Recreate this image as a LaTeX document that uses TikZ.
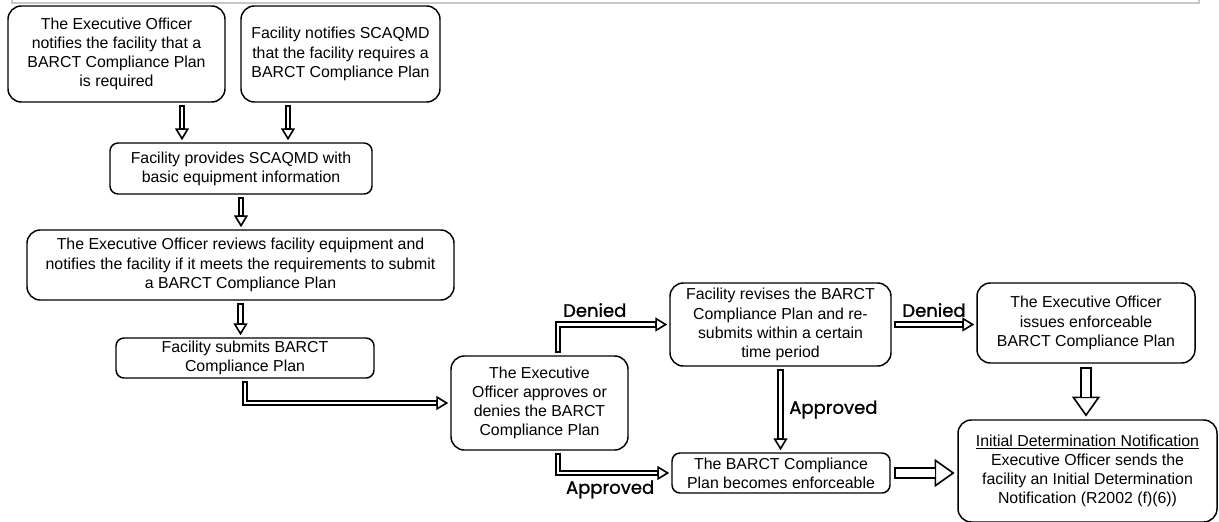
\documentclass[tikz,border=0pt]{standalone}
\usepackage{fontspec}
\setmainfont{Liberation Sans}
\newfontfamily\lblfont{Poppins}[FakeBold=1.2]
\usetikzlibrary{arrows.meta}
\definecolor{framegray}{RGB}{200,200,200}
\begin{document}
\begin{tikzpicture}[x=0.75pt,y=-0.75pt,
  box/.style={draw, line width=1.1pt, rounded corners=10pt, align=center, inner sep=0pt,
    font=\fontsize{11.9}{14.4}\selectfont},
  smallbox/.style={box, rounded corners=6pt},
  lbl/.style={font=\lblfont\fontsize{13.5}{16}\selectfont, inner sep=0pt},
  flow/.style={line width=5.2pt, shorten <=2pt, shorten >=1.5pt,
    -{Triangle[open,length=9pt,width=10.5pt,line width=1.2pt]},
    postaction={draw=white, -, line width=2.1pt, shorten <=3.3pt, shorten >=10.5pt}},
  bigflow/.style={line width=9.6pt, shorten <=2.5pt, shorten >=2pt,
    -{Triangle[open,length=15pt,width=21pt,line width=1.2pt]},
    postaction={draw=white, -, line width=6pt, shorten <=3.8pt, shorten >=17pt}}]
\useasboundingbox (0,0) rectangle (1219,521);
% frame remnant at the top
\draw[framegray, line width=0.8pt] (12,-10) -- (12,3) -- (1199,3) -- (1199,-10);

\node[box, minimum width=162.75pt, minimum height=72pt] (A) at (116.5,54)
  {The Executive Officer\\notifies the facility that a\\BARCT Compliance Plan\\is required};
\node[box, minimum width=149.25pt, minimum height=72pt] (B) at (340.5,54)
  {Facility notifies SCAQMD\\that the facility requires a\\BARCT Compliance Plan};
\node[smallbox, minimum width=196.5pt, minimum height=38.25pt] (C) at (241,168.5)
  {Facility provides SCAQMD with\\basic equipment information};
\node[box, minimum width=320.25pt, minimum height=52.5pt] (D) at (240.5,265)
  {The Executive Officer reviews facility equipment and\\notifies the facility if it meets the requirements to submit\\a BARCT Compliance Plan};
\node[smallbox, minimum width=193.5pt, minimum height=30pt] (E) at (245,358)
  {Facility submits BARCT\\Compliance Plan};
\node[box, minimum width=132.75pt, minimum height=70.5pt] (F) at (539.5,403)
  {The Executive\\Officer approves or\\denies the BARCT\\Compliance Plan};
\node[box, minimum width=165.75pt, minimum height=62.25pt] (G) at (780.5,324.5)
  {Facility revises the BARCT\\Compliance Plan and re-\\submits within a certain\\time period};
\node[box, minimum width=163.5pt, minimum height=60pt] (H) at (1086,323)
  {The Executive Officer\\issues enforceable\\BARCT Compliance Plan};
\node[smallbox, minimum width=163.5pt, minimum height=30pt] (J) at (781,473)
  {The BARCT Compliance\\Plan becomes enforceable};
\node[box, minimum width=194.25pt, minimum height=76.5pt] (I) at (1087.5,471)
  {\underline{Initial Determination Notification}\\Executive Officer sends the\\facility an Initial Determination\\Notification (R2002 (f)(6))};

\coordinate (ac) at (182,0);
\coordinate (bc) at (288,0);
\coordinate (fx) at (558,0);

\draw[flow] (A.south -| ac) -- (C.north -| ac);
\draw[flow] (B.south -| bc) -- (C.north -| bc);
\draw[flow] (C.south) -- (C.south |- D.north);
\draw[flow] (D.south) -- (D.south |- E.north);
\draw[flow] (E.south) |- (F.west);
\draw[flow] (F.north -| fx) |- node[pos=0.665, above=3pt, lbl] (den1) {Denied} (G.west);
\draw[flow] (F.south -| fx) |- node[pos=0.73, below=3pt, lbl] (app1) {Approved} (J.west);
\draw[flow] (G.south) -- node[right=4pt, lbl] (app2) {Approved} (G.south |- J.north);
\draw[flow] (G.east) -- node[above=3pt, lbl] (den2) {Denied} (G.east -| H.west);
\draw[bigflow] (H.south) -- (H.south |- I.north);
\draw[bigflow] (J.east) -- (J.east -| I.west);
\end{tikzpicture}
\end{document}
